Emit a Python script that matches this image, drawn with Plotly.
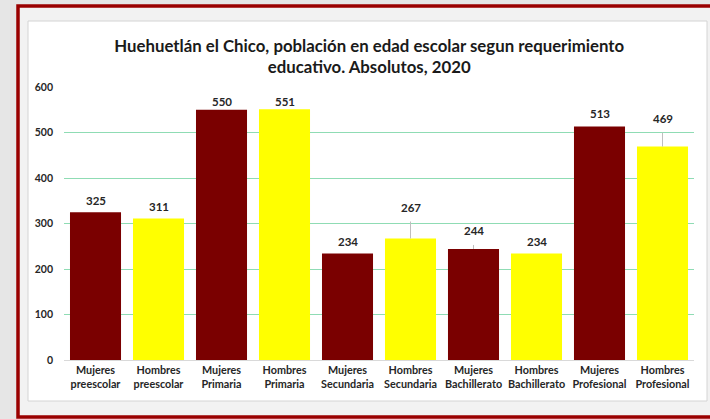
import plotly.graph_objects as go

categories = ["Mujeres<br>preescolar", "Hombres<br>preescolar", "Mujeres<br>Primaria", "Hombres<br>Primaria",
              "Mujeres<br>Secundaria", "Hombres<br>Secundaria", "Mujeres<br>Bachillerato", "Hombres<br>Bachillerato",
              "Mujeres<br>Profesional", "Hombres<br>Profesional"]
values = [325, 311, 550, 551, 234, 267, 244, 234, 513, 469]
y_ticks = [0, 100, 200, 300, 400, 500, 600]
title = "Huehuetlán el Chico, población en edad escolar segun requerimiento<br>educativo. Absolutos, 2020"

DARK = "#7a0000"
YEL = "#ffff00"
colors = [DARK if c.startswith("Mujeres") else YEL for c in categories]

# label offsets (pixels above bar top) and whether a leader line is drawn
label_offsets = [-12, -12, -8, -8, -12, -31, -18, -12, -13, -28]
leader = [False, False, False, False, False, True, True, False, False, True]

W, H = 710, 419
L, R, T, B = 64, 16, 87, 59
pw, ph = W - L - R, H - T - B

def px(x):
    return (x - L) / pw

def py(y):
    return (H - B - y) / ph

fig = go.Figure()
fig.add_trace(go.Bar(x=categories, y=values, marker=dict(color=colors, line=dict(width=0)),
                     width=0.81, hoverinfo="skip"))

for c, v, off, ld in zip(categories, values, label_offsets, leader):
    fig.add_annotation(x=c, y=v, text=f"<b>{v}</b>", showarrow=True, ax=0, ay=off,
                       arrowhead=0, arrowwidth=1, standoff=0, startstandoff=6,
                       arrowcolor="#bfbfbf" if ld else "rgba(0,0,0,0)",
                       font=dict(size=11.5, color="#262626", family="Lato"))

shapes = [
    dict(type="rect", xref="paper", yref="paper", x0=px(18), x1=px(718), y0=py(417), y1=py(6),
         line=dict(color="#9a0000", width=3.5), fillcolor="#f2f2f2", layer="below"),
    dict(type="rect", xref="paper", yref="paper", x0=px(28), x1=px(707), y0=py(401), y1=py(21),
         line=dict(color="#d4d4d4", width=1), fillcolor="#ffffff", layer="below"),
]

fig.update_layout(
    width=W, height=H,
    margin=dict(l=L, r=R, t=T, b=B),
    paper_bgcolor="#e6e6e6",
    plot_bgcolor="rgba(0,0,0,0)",
    shapes=shapes,
    showlegend=False,
    bargap=0.19,
    title=dict(text=f"<b>{title}</b>", x=0.52, xanchor="center", y=0.877, yanchor="middle",
               font=dict(size=16.8, color="#1a1a1a", family="Lato")),
    xaxis=dict(tickfont=dict(size=10.8, color="#262626", family="Lato"), showline=True,
               linecolor="#d9d9d9", linewidth=1, ticks="", tickprefix="<b>", ticksuffix="</b>"),
    yaxis=dict(range=[0, 600], tickvals=y_ticks, ticktext=[f"<b>{t}</b>" for t in y_ticks],
               tickfont=dict(size=10.5, color="#262626", family="Lato"),
               gridcolor="#8fdcb4", gridwidth=1, zeroline=False, ticks="", ticklabelstandoff=10),
)

fig.write_html("out.html", config={"displayModeBar": False},
               post_script="document.body.style.margin='0';document.body.style.background='#e6e6e6';")
